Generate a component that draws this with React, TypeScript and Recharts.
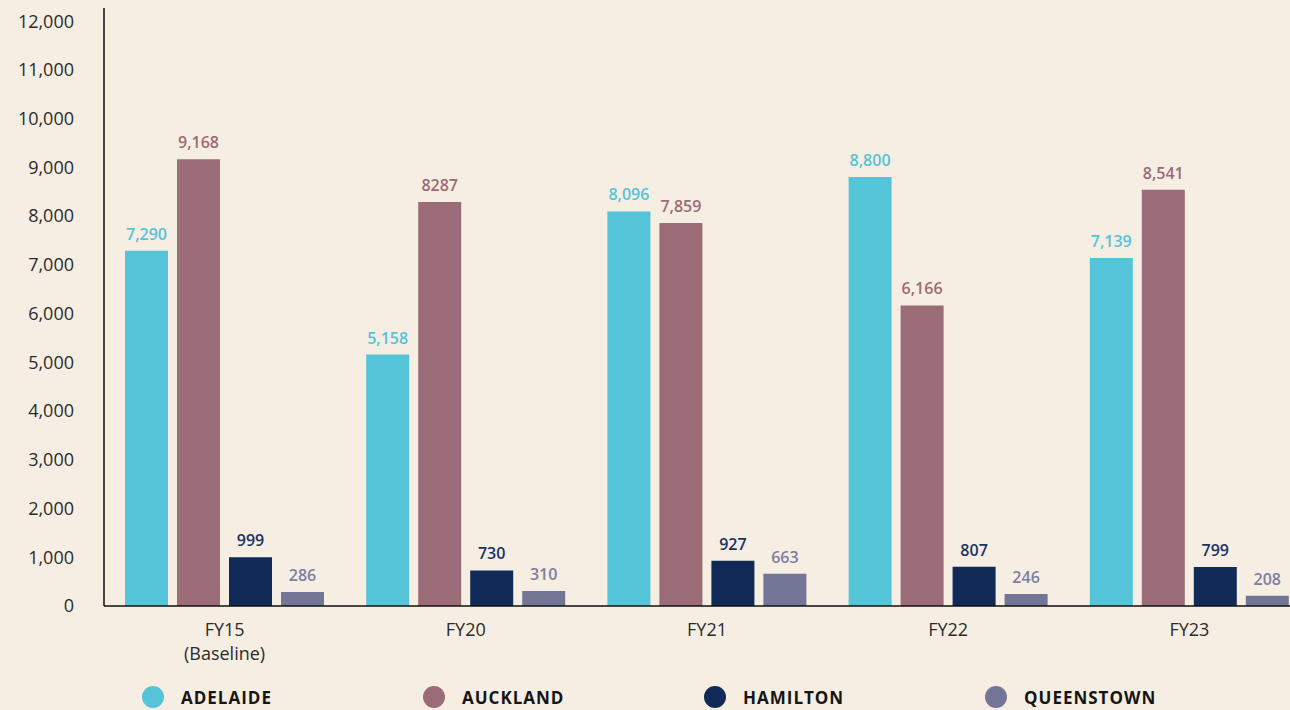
import { BarChart, Bar, XAxis, YAxis, LabelList, Legend } from 'recharts';

const categories = ['FY15\n(Baseline)', 'FY20', 'FY21', 'FY22', 'FY23'];
const adelaide = [7290, 5158, 8096, 8800, 7139];
const auckland = [9168, 8287, 7859, 6166, 8541];
const hamilton = [999, 730, 927, 807, 799];
const queenstown = [286, 310, 663, 246, 208];
// the source prints one Auckland figure without a thousands separator
const aucklandLabels = ['9,168', '8287', '7,859', '6,166', '8,541'];
const yTicks = [0, 1000, 2000, 3000, 4000, 5000, 6000, 7000, 8000, 9000, 10000, 11000, 12000];
const yMax = 12270;

const FONT = '"Open Sans", "Noto Sans", sans-serif';
const fmt = (v: number) => v.toLocaleString('en-US');

const series = [
  { key: 'adelaide', name: 'ADELAIDE', color: '#55c4d8', labelColor: '#55c4d8' },
  { key: 'auckland', name: 'AUCKLAND', color: '#9b6b77', labelColor: '#9b6b77' },
  { key: 'hamilton', name: 'HAMILTON', color: '#112a57', labelColor: '#1a3262' },
  { key: 'queenstown', name: 'QUEENSTOWN', color: '#737596', labelColor: '#7c7fa2' },
];

const data = categories.map((category, i) => ({
  category,
  adelaide: adelaide[i],
  auckland: auckland[i],
  hamilton: hamilton[i],
  queenstown: queenstown[i],
  adelaideLabel: fmt(adelaide[i]),
  aucklandLabel: aucklandLabels[i],
  hamiltonLabel: fmt(hamilton[i]),
  queenstownLabel: fmt(queenstown[i]),
}));

function CategoryTick(props: any) {
  const { x, y, payload } = props;
  const lines = String(payload.value).split('\n');
  return (
    <text x={x} y={y} textAnchor="middle" fill="#2b2b2b" fontSize={18} fontFamily={FONT}>
      {lines.map((line, i) => (
        <tspan key={i} x={x} y={y + 28 + i * 24}>
          {line}
        </tspan>
      ))}
    </text>
  );
}

function LegendContent() {
  return (
    <div style={{ display: 'flex', alignItems: 'center', height: 22, paddingLeft: 142 }}>
      {series.map((s) => (
        <div key={s.key} style={{ display: 'flex', alignItems: 'center', width: 281 }}>
          <span
            style={{
              width: 22,
              height: 22,
              borderRadius: '50%',
              background: s.color,
              display: 'inline-block',
              marginRight: 17,
            }}
          />
          <span
            style={{
              fontFamily: FONT,
              fontWeight: 700,
              fontSize: 17,
              letterSpacing: 1,
              color: '#151515',
            }}
          >
            {s.name}
          </span>
        </div>
      ))}
    </div>
  );
}

export default function App() {
  return (
    <div
      style={{
        position: 'absolute',
        left: 0,
        top: 0,
        width: 1290,
        height: 710,
        overflow: 'hidden',
        background: '#f6eee2',
      }}
    >
      <BarChart
        width={1310}
        height={710}
        data={data}
        margin={{ top: 8, right: 0, left: 0, bottom: 0 }}
        barSize={43}
        barGap={9}
      >
        <XAxis
          dataKey="category"
          height={104}
          interval={0}
          axisLine={{ stroke: '#111', strokeWidth: 1.5 }}
          tickLine={false}
          tickSize={0}
          tick={<CategoryTick />}
        />
        <YAxis
          width={104}
          domain={[0, yMax]}
          ticks={yTicks}
          interval={0}
          tickFormatter={fmt}
          axisLine={{ stroke: '#111', strokeWidth: 1.5 }}
          tickLine={false}
          tickSize={0}
          tickMargin={30}
          tick={{ fontSize: 18, fill: '#2b2b2b', fontFamily: FONT }}
        />
        <Legend
          layout="horizontal"
          verticalAlign="middle"
          align="center"
          wrapperStyle={{ left: 0, top: 686, width: 1290 }}
          content={<LegendContent />}
        />
        {series.map((s) => (
          <Bar key={s.key} dataKey={s.key} name={s.name} fill={s.color} isAnimationActive={false}>
            <LabelList
              dataKey={`${s.key}Label`}
              position="top"
              offset={11}
              fill={s.labelColor}
              fontSize={16}
              fontWeight={600}
              fontFamily={FONT}
            />
          </Bar>
        ))}
      </BarChart>
    </div>
  );
}
